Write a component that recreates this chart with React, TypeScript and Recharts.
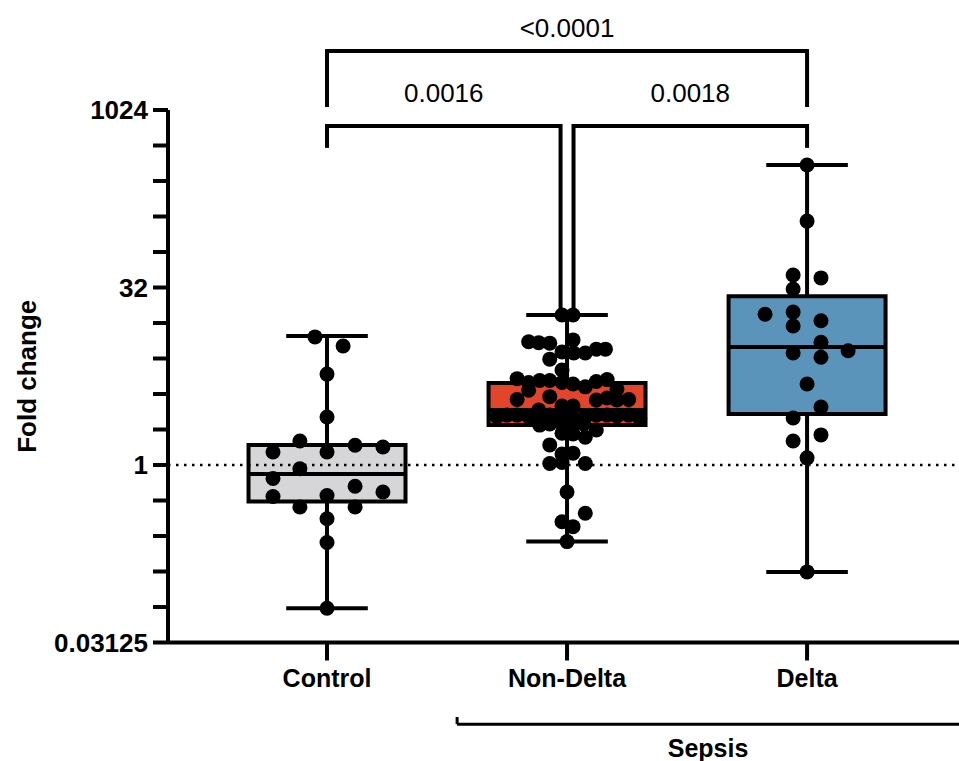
import {
  ComposedChart,
  Scatter,
  XAxis,
  YAxis,
  ReferenceArea,
  ReferenceLine,
} from 'recharts';

// groups and box colours
const GROUPS = ['Control', 'Non-Delta', 'Delta'];
const BOX_FILLS = ['#d6d6d8', '#e3452a', '#5b94ba'];

// box statistics (fold change)
const MINS = [0.061, 0.224, 0.124];
const Q1S = [0.49, 2.18, 2.71];
const MEDIANS = [0.84, 2.93, 10];
const Q3S = [1.48, 4.96, 27];
const MAXES = [12.4, 18.7, 350];

// individual points (fold change) + horizontal jitter in category units
const controlValues = [12.2, 10.2, 5.9, 2.55, 1.6, 1.47, 1.42, 1.29, 1.29, 0.93, 0.77, 0.66, 0.59, 0.54, 0.55, 0.44, 0.44, 0.35, 0.22, 0.061];
const controlJitter = [-0.05, 0.067, 0, 0, -0.113, 0.117, 0.233, -0.225, 0, -0.113, -0.225, 0.117, 0.233, -0.225, 0, -0.113, 0.117, 0, 0, 0];

const nonDeltaValues = [
  18.7, 18.7, 11.1, 10.9, 10.8, 11.5, 9.1, 8.9, 8.9, 9.6, 9.6, 7.9, 6.4,
  5.4, 5.0, 5.2, 5.2, 5.0, 4.86, 4.6, 5.1, 5.3, 4.3, 4.4,
  3.6, 3.8, 3.56, 3.7, 3.56, 3.6, 3.16, 3.16, 2.93,
  2.57, 2.65, 2.65, 2.57, 2.57, 2.65, 2.57, 2.54, 2.57, 2.65, 2.65, 2.6, 2.65, 2.49,
  2.18, 2.23, 2.23, 2.23, 2.23, 1.98, 1.86, 1.83, 1.72, 1.48, 1.24, 1.26,
  1.03, 1.05, 1.03, 0.59, 0.39, 0.33, 0.3, 0.224,
];
const nonDeltaJitter = [
  -0.021, 0.025, -0.16, -0.118, -0.072, 0.025, -0.021, 0.028, 0.076, 0.122, 0.16, -0.072, -0.021,
  -0.208, -0.16, -0.114, -0.072, -0.021, 0.025, 0.076, 0.122, 0.167, -0.16, 0.208,
  -0.208, -0.072, 0.122, 0.167, 0.208, 0.257, -0.021, 0.025, -0.118,
  -0.292, -0.25, -0.208, -0.16, -0.114, -0.072, -0.021, 0.025, 0.076, 0.122, 0.167, 0.208, 0.257, 0.303,
  -0.114, -0.072, -0.021, 0.025, 0.069, 0.122, -0.021, 0.025, 0.076, -0.072, -0.021, 0.025,
  -0.072, -0.021, 0.076, 0, 0.076, -0.021, 0.025, 0,
];

const deltaValues = [350, 117, 40.8, 38.6, 31.1, 19.0, 19.8, 15.1, 16.7, 11.0, 8.9, 8.2, 9.3, 4.86, 3.1, 2.5, 1.8, 1.6, 1.15, 0.124];
const deltaJitter = [0, 0, -0.058, 0.058, -0.058, -0.175, -0.058, -0.058, 0.058, 0.058, -0.058, 0.058, 0.171, 0, 0.058, -0.058, 0.058, -0.058, 0, 0];

// y axis: powers of two, labelled every 2^5
const Y_TICKS = [0.03125, 0.0625, 0.125, 0.25, 0.5, 1, 2, 4, 8, 16, 32, 64, 128, 256, 512, 1024];
const Y_LABELLED = [0.03125, 1, 32, 1024];

// multiple-comparison p values
const COMPARISONS = [
  { from: 0, to: 2, p: '<0.0001' },
  { from: 0, to: 1, p: '0.0016' },
  { from: 1, to: 2, p: '0.0018' },
];

const FONT = '"Liberation Sans", Arial, Helvetica, sans-serif';
const BOX_HALF = 0.327;
const CAP_HALF = 0.17;
const X_DOMAIN = [-0.6625, 2.633];

// bracket heights (fold change, above the plotted range)
const TOP_BAR = Math.pow(2, 11.66);
const TOP_LEG = Math.pow(2, 10.14);
const INNER_BAR = Math.pow(2, 9.55);
const INNER_LEG = Math.pow(2, 8.99);
const MID_LEG = Math.pow(2, 4.31);
const MID_GAP = 0.027;
const SEPSIS_Y = Math.pow(2, -7.3);
const SEPSIS_TICK = Math.pow(2, -7.1);
const SEPSIS_START = 0.542;

const toPoints = (values: number[], jitter: number[], g: number) =>
  values.map((v, i) => ({ x: g + jitter[i], y: v }));

const groupPoints = [
  toPoints(controlValues, controlJitter, 0),
  toPoints(nonDeltaValues, nonDeltaJitter, 1),
  toPoints(deltaValues, deltaJitter, 2),
];

const Dot = (props: any) => <circle cx={props.cx} cy={props.cy} r={7.5} fill="#000" />;

const seg = (x1: number, y1: number, x2: number, y2: number, key: string, extra: any = {}) => (
  <ReferenceLine
    key={key}
    segment={[{ x: x1, y: y1 }, { x: x2, y: y2 }]}
    stroke="#000"
    strokeWidth={4}
    ifOverflow="visible"
    {...extra}
  />
);

export default function App() {
  const [all, left, right] = COMPARISONS;
  return (
    <div style={{ position: 'absolute', left: 0, top: 0, fontFamily: FONT, background: '#fff' }}>
      <ComposedChart
        width={959}
        height={761}
        margin={{ top: 110, right: 0, bottom: 58.5, left: 0 }}
      >
        <XAxis
          type="number"
          dataKey="x"
          domain={X_DOMAIN}
          allowDataOverflow
          ticks={[0, 1, 2]}
          tickFormatter={(v: number) => GROUPS[v] ?? ''}
          height={60}
          tickSize={18}
          tickMargin={9}
          axisLine={{ stroke: '#000', strokeWidth: 4 }}
          tickLine={{ stroke: '#000', strokeWidth: 4 }}
          tick={{ fill: '#000', fontSize: 25, fontWeight: 700, fontFamily: FONT }}
        />
        <YAxis
          type="number"
          dataKey="y"
          scale="log"
          domain={[0.03125, 1024]}
          allowDataOverflow
          ticks={Y_TICKS}
          interval={0}
          tickFormatter={(v: number) => (Y_LABELLED.includes(v) ? String(v) : '')}
          width={168}
          tickSize={15}
          tickMargin={5}
          axisLine={{ stroke: '#000', strokeWidth: 4 }}
          tickLine={{ stroke: '#000', strokeWidth: 4 }}
          tick={{ fill: '#000', fontSize: 26, fontWeight: 700, fontFamily: FONT }}
          label={{
            value: 'Fold change',
            angle: -90,
            position: 'insideLeft',
            offset: 27,
            style: { textAnchor: 'middle', fill: '#000', fontSize: 26, fontWeight: 700, fontFamily: FONT },
          }}
        />

        <ReferenceLine y={1} stroke="#000" strokeWidth={2.5} strokeDasharray="2.5 5.5" />

        {GROUPS.map((g, i) => (
          <ReferenceArea
            key={`box-${g}`}
            x1={i - BOX_HALF}
            x2={i + BOX_HALF}
            y1={Q1S[i]}
            y2={Q3S[i]}
            fill={BOX_FILLS[i]}
            fillOpacity={1}
            stroke="#000"
            strokeWidth={4}
          />
        ))}
        {GROUPS.map((g, i) => seg(i - BOX_HALF, MEDIANS[i], i + BOX_HALF, MEDIANS[i], `med-${g}`))}
        {GROUPS.map((g, i) => seg(i, Q3S[i], i, MAXES[i], `wt-${g}`))}
        {GROUPS.map((g, i) => seg(i, Q1S[i], i, MINS[i], `wb-${g}`))}
        {GROUPS.map((g, i) => seg(i - CAP_HALF, MAXES[i], i + CAP_HALF, MAXES[i], `ct-${g}`))}
        {GROUPS.map((g, i) => seg(i - CAP_HALF, MINS[i], i + CAP_HALF, MINS[i], `cb-${g}`))}

        {/* Control vs Delta */}
        {seg(all.from, TOP_LEG, all.from, TOP_BAR, 'all-l', { strokeLinecap: 'square' })}
        {seg(all.to, TOP_LEG, all.to, TOP_BAR, 'all-r', { strokeLinecap: 'square' })}
        {seg(all.from, TOP_BAR, all.to, TOP_BAR, 'all-bar', {
          label: { value: all.p, position: 'top', offset: 14, fill: '#000', fontSize: 26, fontFamily: FONT },
        })}

        {/* Control vs Non-Delta */}
        {seg(left.from, INNER_LEG, left.from, INNER_BAR, 'l-l', { strokeLinecap: 'square' })}
        {seg(left.to - MID_GAP, MID_LEG, left.to - MID_GAP, INNER_BAR, 'l-r', { strokeLinecap: 'square' })}
        {seg(left.from, INNER_BAR, left.to - MID_GAP, INNER_BAR, 'l-bar', {
          label: { value: left.p, position: 'top', offset: 24, fill: '#000', fontSize: 26, fontFamily: FONT },
        })}

        {/* Non-Delta vs Delta */}
        {seg(right.from + MID_GAP, MID_LEG, right.from + MID_GAP, INNER_BAR, 'r-l', { strokeLinecap: 'square' })}
        {seg(right.to, INNER_LEG, right.to, INNER_BAR, 'r-r', { strokeLinecap: 'square' })}
        {seg(right.from + MID_GAP, INNER_BAR, right.to, INNER_BAR, 'r-bar', {
          label: { value: right.p, position: 'top', offset: 24, fill: '#000', fontSize: 26, fontFamily: FONT },
        })}

        {/* Sepsis grouping bracket */}
        {seg(SEPSIS_START, SEPSIS_TICK, SEPSIS_START, SEPSIS_Y, 'sep-tick', { strokeWidth: 3 })}
        {seg(SEPSIS_START, SEPSIS_Y, X_DOMAIN[1], SEPSIS_Y, 'sep-bar', {
          strokeWidth: 3,
          label: { value: 'Sepsis', position: 'bottom', offset: 15, fill: '#000', fontSize: 25, fontWeight: 700, fontFamily: FONT },
        })}

        {groupPoints.map((pts, i) => (
          <Scatter key={`pts-${i}`} data={pts} shape={Dot} isAnimationActive={false} />
        ))}
      </ComposedChart>
    </div>
  );
}
